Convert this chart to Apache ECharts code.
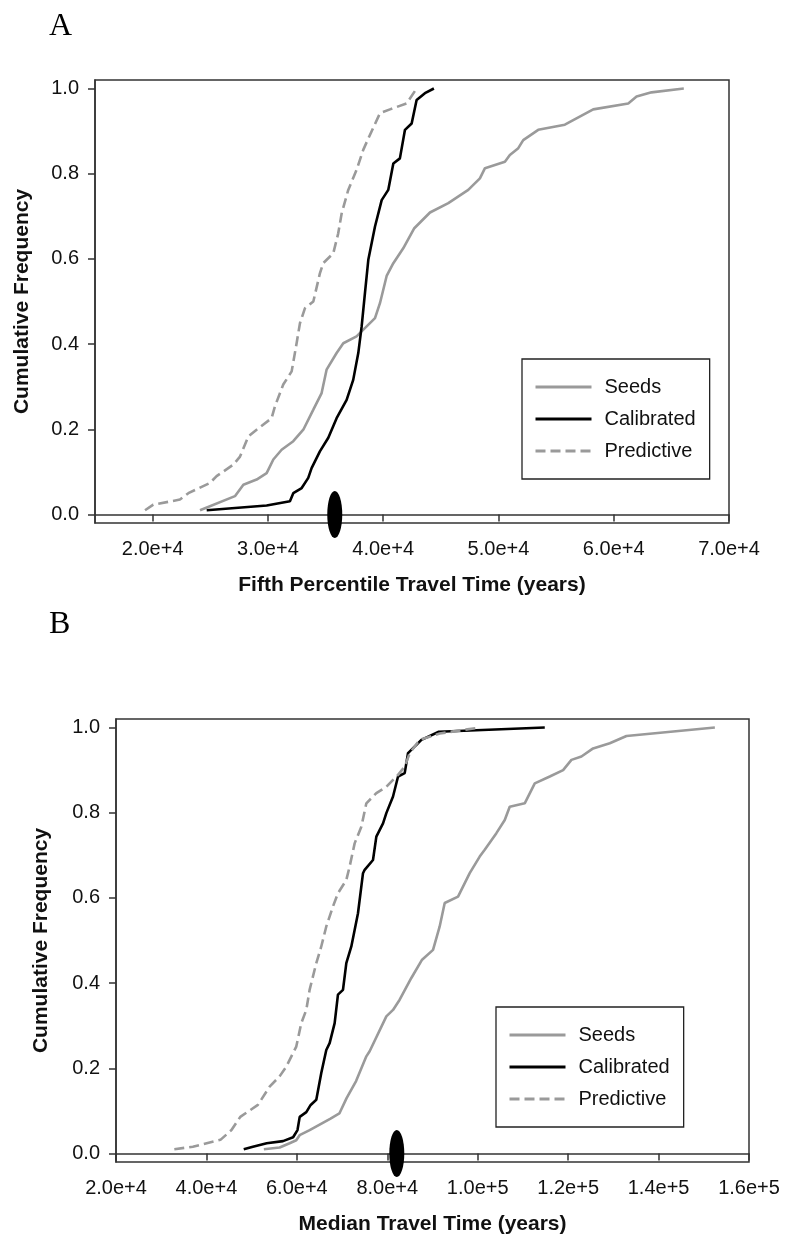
<!DOCTYPE html>
<html>
<head>
<meta charset="utf-8">
<script src="https://cdn.jsdelivr.net/npm/echarts@6.0.0/dist/echarts.min.js"></script>
<style>
  html, body { margin: 0; padding: 0; background: #fff; }
  #chart { width: 786px; height: 1243px; }
</style>
</head>
<body>
<div id="chart"></div>
<script>
// panel A: fifth percentile travel time
const seedsA_x = [24110, 27140, 27870, 29020, 29890, 30470, 31190, 32200, 33070, 33940, 34660, 35090, 35960, 36540, 37690, 39290, 39720, 40300, 40880, 41740, 42700, 44060, 45650, 47380, 48390, 48830, 50560, 50990, 51720, 52150, 53450, 55760, 58220, 61260, 61980, 63280, 66080]
const seedsA_y = [0.010, 0.043, 0.070, 0.082, 0.097, 0.129, 0.152, 0.172, 0.199, 0.246, 0.285, 0.340, 0.379, 0.402, 0.418, 0.461, 0.496, 0.560, 0.590, 0.625, 0.672, 0.709, 0.731, 0.762, 0.789, 0.813, 0.828, 0.844, 0.860, 0.879, 0.903, 0.915, 0.951, 0.965, 0.981, 0.991, 1.000]
const calibA_x = [24690, 29890, 31910, 32200, 32930, 33500, 33790, 34510, 35240, 35960, 36830, 37400, 37840, 38130, 38420, 38710, 39290, 39870, 40440, 40880, 41450, 41890, 42470, 42900, 43620, 44400]
const calibA_y = [0.010, 0.021, 0.031, 0.050, 0.062, 0.086, 0.109, 0.148, 0.180, 0.226, 0.269, 0.316, 0.379, 0.441, 0.520, 0.598, 0.676, 0.738, 0.762, 0.824, 0.836, 0.903, 0.918, 0.973, 0.989, 1.000]
const predA_x = [19340, 20060, 22370, 23100, 24970, 25550, 27000, 27580, 28300, 29020, 30320, 30610, 31330, 32060, 32490, 32780, 33210, 33940, 34510, 34800, 35670, 36100, 36400, 36970, 37690, 38270, 38850, 39720, 40590, 42030, 42900]
const predA_y = [0.010, 0.023, 0.035, 0.050, 0.074, 0.090, 0.117, 0.136, 0.183, 0.199, 0.226, 0.254, 0.305, 0.336, 0.402, 0.449, 0.484, 0.500, 0.566, 0.590, 0.613, 0.660, 0.707, 0.762, 0.809, 0.856, 0.891, 0.942, 0.951, 0.965, 1.000]
const markA = [35800]

// panel B: median travel time
const seedsB_x = [52700, 56190, 58400, 59870, 60610, 62830, 67450, 69400, 71000, 73100, 75370, 76100, 79790, 81270, 82740, 85320, 87700, 90120, 91590, 92700, 95650, 98230, 100440, 101550, 104130, 105980, 107080, 110400, 112620, 115940, 118890, 120730, 122940, 125520, 129210, 132900, 152450]
const seedsB_y = [0.010, 0.014, 0.024, 0.031, 0.043, 0.055, 0.082, 0.094, 0.130, 0.170, 0.228, 0.240, 0.322, 0.337, 0.361, 0.412, 0.455, 0.478, 0.533, 0.588, 0.603, 0.658, 0.697, 0.713, 0.752, 0.783, 0.814, 0.822, 0.869, 0.885, 0.900, 0.924, 0.932, 0.951, 0.963, 0.980, 1.000]
const calibB_x = [48250, 50280, 53330, 56930, 59170, 60140, 60630, 62090, 63060, 64300, 65400, 66510, 67250, 68360, 69090, 70200, 70940, 72050, 73520, 74630, 75000, 76840, 77580, 79060, 79790, 81270, 82380, 83850, 84590, 87540, 91400, 114830]
const calibB_y = [0.010, 0.016, 0.024, 0.029, 0.038, 0.055, 0.086, 0.097, 0.114, 0.126, 0.189, 0.243, 0.259, 0.306, 0.373, 0.384, 0.447, 0.486, 0.564, 0.658, 0.666, 0.689, 0.744, 0.775, 0.799, 0.838, 0.885, 0.893, 0.940, 0.971, 0.990, 1.000]
const predB_x = [32900, 37000, 43100, 45540, 47490, 51380, 53970, 56180, 57660, 59870, 60980, 62090, 62820, 64300, 65400, 66510, 67990, 69090, 70940, 71680, 72780, 74260, 75370, 77580, 79790, 82380, 83850, 84960, 87170, 91590, 100440]
const predB_y = [0.010, 0.016, 0.032, 0.055, 0.086, 0.114, 0.157, 0.181, 0.204, 0.251, 0.306, 0.337, 0.384, 0.447, 0.486, 0.533, 0.580, 0.611, 0.642, 0.674, 0.728, 0.767, 0.822, 0.846, 0.861, 0.889, 0.908, 0.940, 0.971, 0.986, 1.000]
const markB = [82100]

// ticks
const ticksA_x = [20000, 30000, 40000, 50000, 60000, 70000]
const ticksB_x = [20000, 40000, 60000, 80000, 100000, 120000, 140000, 160000]
const ticks_y = [0, 0.2, 0.4, 0.6, 0.8, 1.0]

const font = "'Liberation Sans', Arial, Helvetica, sans-serif"
const frameColor = '#333'
const gray = '#9a9a9a'

const pairs = (xs, ys) => xs.map((x, i) => [x, ys[i]])
const sci = (v) => {
  const e = Math.floor(Math.log10(v) + 1e-9)
  return (v / Math.pow(10, e)).toFixed(1) + 'e+' + e
}

const xAxisFor = (idx, min, max, ticks, name) => ({
  type: 'value',
  gridIndex: idx,
  min,
  max,
  name,
  nameLocation: 'middle',
  nameGap: 52,
  nameTextStyle: { fontFamily: font, fontSize: 21, fontWeight: 'bold', color: '#111' },
  axisLine: { show: true, lineStyle: { color: frameColor, width: 1.5 } },
  axisTick: { show: true, length: 7, customValues: ticks, lineStyle: { color: frameColor, width: 1.5 } },
  axisLabel: { customValues: ticks, formatter: sci, margin: 16, fontFamily: font, fontSize: 20, color: '#111' },
  splitLine: { show: false }
})

const yAxisFor = (idx, gap) => ({
  type: 'value',
  gridIndex: idx,
  min: -0.02,
  max: 1.02,
  name: 'Cumulative Frequency',
  nameLocation: 'middle',
  nameGap: gap,
  nameTextStyle: { fontFamily: font, fontSize: 21, fontWeight: 'bold', color: '#111' },
  axisLine: { show: true, lineStyle: { color: frameColor, width: 1.5 } },
  axisTick: { show: true, length: 7, customValues: ticks_y, lineStyle: { color: frameColor, width: 1.5 } },
  axisLabel: { customValues: ticks_y, formatter: (v) => v.toFixed(1), margin: 16, fontFamily: font, fontSize: 20, color: '#111' },
  splitLine: { show: false }
})

const curve = (name, idx, data, color, dashed) => ({
  name,
  type: 'line',
  xAxisIndex: idx,
  yAxisIndex: idx,
  data,
  symbol: 'none',
  showSymbol: false,
  lineStyle: { color, width: 2.6, type: dashed ? [10, 5] : 'solid' },
  itemStyle: { color },
  z: dashed ? 3 : 2
})

const mark = (idx, xs) => ({
  type: 'scatter',
  xAxisIndex: idx,
  yAxisIndex: idx,
  data: xs.map((x) => [x, 0]),
  symbol: 'circle',
  symbolSize: [15, 47],
  itemStyle: { color: '#000', opacity: 1 },
  clip: false,
  silent: true,
  z: 5
})

const legendAt = (left, top) => ({
  left,
  top,
  orient: 'vertical',
  data: ['Seeds', 'Calibrated', 'Predictive'],
  itemWidth: 56,
  itemHeight: 14,
  itemGap: 12,
  padding: [18, 14, 18, 12],
  borderColor: '#222',
  borderWidth: 1.3,
  backgroundColor: '#fff',
  itemStyle: { opacity: 0 },
  lineStyle: { width: 3 },
  textStyle: { fontFamily: font, fontSize: 20, color: '#111', padding: [0, 0, 0, 8] }
})

const chart = echarts.init(document.getElementById('chart'), null, { renderer: 'canvas' })

chart.setOption({
  backgroundColor: '#fff',
  animation: false,
  title: [
    { text: 'A', left: 44, top: 6, textStyle: { fontFamily: "'Liberation Serif', 'Times New Roman', serif", fontSize: 32, fontWeight: 'normal', color: '#000' } },
    { text: 'B', left: 44, top: 604, textStyle: { fontFamily: "'Liberation Serif', 'Times New Roman', serif", fontSize: 32, fontWeight: 'normal', color: '#000' } }
  ],
  grid: [
    { left: 95, top: 80, width: 634, height: 443, show: true, borderColor: frameColor, borderWidth: 1.5, backgroundColor: 'transparent' },
    { left: 116, top: 719, width: 633, height: 443, show: true, borderColor: frameColor, borderWidth: 1.5, backgroundColor: 'transparent' }
  ],
  xAxis: [
    xAxisFor(0, 15000, 70000, ticksA_x, 'Fifth Percentile Travel Time (years)'),
    xAxisFor(1, 20000, 160000, ticksB_x, 'Median Travel Time (years)')
  ],
  yAxis: [yAxisFor(0, 62), yAxisFor(1, 64)],
  legend: [legendAt(522, 359), legendAt(496, 1007)],
  series: [
    curve('Seeds', 0, pairs(seedsA_x, seedsA_y), gray, false),
    curve('Calibrated', 0, pairs(calibA_x, calibA_y), '#000', false),
    curve('Predictive', 0, pairs(predA_x, predA_y), gray, true),
    mark(0, markA),
    curve('Seeds', 1, pairs(seedsB_x, seedsB_y), gray, false),
    curve('Calibrated', 1, pairs(calibB_x, calibB_y), '#000', false),
    curve('Predictive', 1, pairs(predB_x, predB_y), gray, true),
    mark(1, markB)
  ]
})
</script>
</body>
</html>
